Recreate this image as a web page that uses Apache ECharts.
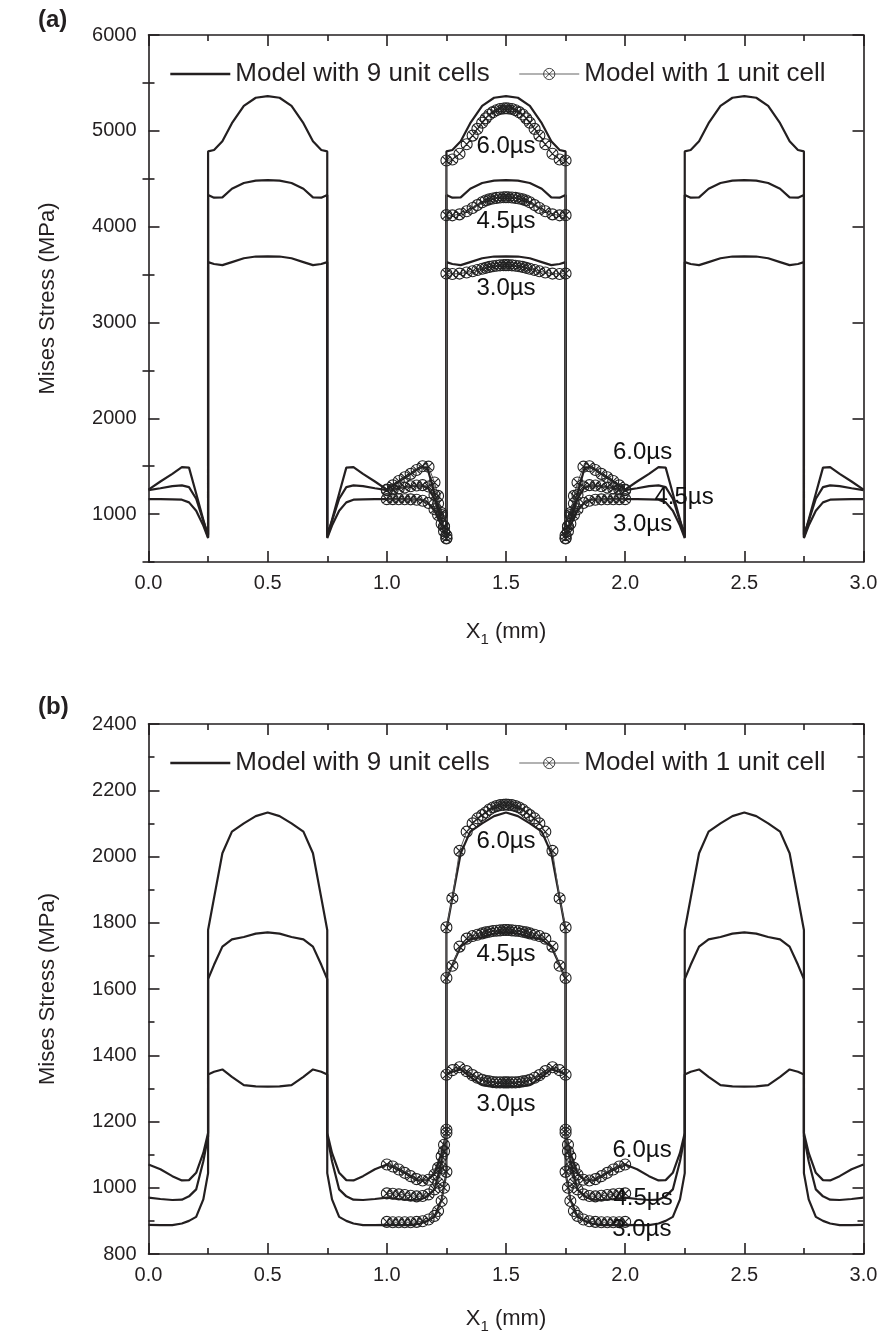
<!DOCTYPE html>
<html><head><meta charset="utf-8">
<script src="https://cdn.jsdelivr.net/npm/echarts@6/dist/echarts.min.js"></script>
<style>html,body{margin:0;padding:0;background:#fff}#c{width:881px;height:1340px}</style>
</head><body><div id="c"></div>
<script>
// ---------- x grid of the 9-unit-cell model (three periods) ----------
const X9 = [
  0, 0.05, 0.1, 0.14, 0.17, 0.2, 0.23, 0.25, 0.25, 0.275, 0.31, 0.35, 0.4, 0.45, 0.5, 0.55, 0.6, 0.65, 0.69, 0.725, 0.75, 0.75, 0.77, 0.8, 0.83, 0.86, 0.9, 0.95,
  1, 1.05, 1.1, 1.14, 1.17, 1.2, 1.23, 1.25, 1.25, 1.275, 1.31, 1.35, 1.4, 1.45, 1.5, 1.55, 1.6, 1.65, 1.69, 1.725, 1.75, 1.75, 1.77, 1.8, 1.83, 1.86, 1.9, 1.95,
  2, 2.05, 2.1, 2.14, 2.17, 2.2, 2.23, 2.25, 2.25, 2.275, 2.31, 2.35, 2.4, 2.45, 2.5, 2.55, 2.6, 2.65, 2.69, 2.725, 2.75, 2.75, 2.77, 2.8, 2.83, 2.86, 2.9, 2.95,
  3
];
// (a) 9 unit cells
const A9_60 = [
  1255, 1340, 1420, 1490, 1485, 1215, 940, 760, 4785, 4800, 4890, 5080, 5260, 5345, 5362, 5345, 5260, 5080, 4890, 4800, 4785, 760, 940, 1215, 1485, 1490, 1420, 1340,
  1255, 1340, 1420, 1490, 1485, 1215, 940, 760, 4785, 4800, 4890, 5080, 5260, 5345, 5362, 5345, 5260, 5080, 4890, 4800, 4785, 760, 940, 1215, 1485, 1490, 1420, 1340,
  1255, 1340, 1420, 1490, 1485, 1215, 940, 760, 4785, 4800, 4890, 5080, 5260, 5345, 5362, 5345, 5260, 5080, 4890, 4800, 4785, 760, 940, 1215, 1485, 1490, 1420, 1340,
  1255
];
const A9_45 = [
  1250, 1270, 1292, 1300, 1282, 1160, 930, 785, 4330, 4302, 4305, 4395, 4455, 4480, 4485, 4480, 4455, 4395, 4305, 4302, 4330, 785, 930, 1160, 1282, 1300, 1292, 1270,
  1250, 1270, 1292, 1300, 1282, 1160, 930, 785, 4330, 4302, 4305, 4395, 4455, 4480, 4485, 4480, 4455, 4395, 4305, 4302, 4330, 785, 930, 1160, 1282, 1300, 1292, 1270,
  1250, 1270, 1292, 1300, 1282, 1160, 930, 785, 4330, 4302, 4305, 4395, 4455, 4480, 4485, 4480, 4455, 4395, 4305, 4302, 4330, 785, 930, 1160, 1282, 1300, 1292, 1270,
  1250
];
const A9_30 = [
  1156, 1156, 1154, 1150, 1122, 1035, 880, 750, 3630, 3610, 3598, 3630, 3670, 3688, 3690, 3688, 3670, 3630, 3598, 3610, 3630, 750, 880, 1035, 1122, 1150, 1154, 1156,
  1156, 1156, 1154, 1150, 1122, 1035, 880, 750, 3630, 3610, 3598, 3630, 3670, 3688, 3690, 3688, 3670, 3630, 3598, 3610, 3630, 750, 880, 1035, 1122, 1150, 1154, 1156,
  1156, 1156, 1154, 1150, 1122, 1035, 880, 750, 3630, 3610, 3598, 3630, 3670, 3688, 3690, 3688, 3670, 3630, 3598, 3610, 3630, 750, 880, 1035, 1122, 1150, 1154, 1156,
  1156
];
// (b) 9 unit cells
const B9_60 = [
  1070, 1056, 1035, 1022, 1023, 1045, 1105, 1165, 1778, 1875, 2010, 2075, 2100, 2122, 2133, 2122, 2100, 2075, 2010, 1875, 1778, 1165, 1105, 1045, 1023, 1022, 1035, 1056,
  1070, 1056, 1035, 1022, 1023, 1045, 1105, 1165, 1778, 1875, 2010, 2075, 2100, 2122, 2133, 2122, 2100, 2075, 2010, 1875, 1778, 1165, 1105, 1045, 1023, 1022, 1035, 1056,
  1070, 1056, 1035, 1022, 1023, 1045, 1105, 1165, 1778, 1875, 2010, 2075, 2100, 2122, 2133, 2122, 2100, 2075, 2010, 1875, 1778, 1165, 1105, 1045, 1023, 1022, 1035, 1056,
  1070
];
const B9_45 = [
  970, 966, 963, 964, 974, 995, 1080, 1155, 1630, 1673, 1728, 1750, 1757, 1767, 1771, 1767, 1757, 1750, 1728, 1673, 1630, 1155, 1080, 995, 974, 964, 963, 966,
  970, 966, 963, 964, 974, 995, 1080, 1155, 1630, 1673, 1728, 1750, 1757, 1767, 1771, 1767, 1757, 1750, 1728, 1673, 1630, 1155, 1080, 995, 974, 964, 963, 966,
  970, 966, 963, 964, 974, 995, 1080, 1155, 1630, 1673, 1728, 1750, 1757, 1767, 1771, 1767, 1757, 1750, 1728, 1673, 1630, 1155, 1080, 995, 974, 964, 963, 966,
  970
];
const B9_30 = [
  888, 887, 887, 892, 900, 912, 965, 1044, 1342, 1350, 1357, 1335, 1310, 1306, 1305, 1306, 1310, 1335, 1357, 1350, 1342, 1044, 965, 912, 900, 892, 887, 887,
  888, 887, 887, 892, 900, 912, 965, 1044, 1342, 1350, 1357, 1335, 1310, 1306, 1305, 1306, 1310, 1335, 1357, 1350, 1342, 1044, 965, 912, 900, 892, 887, 887,
  888, 887, 887, 892, 900, 912, 965, 1044, 1342, 1350, 1357, 1335, 1310, 1306, 1305, 1306, 1310, 1335, 1357, 1350, 1342, 1044, 965, 912, 900, 892, 887, 887,
  888
];

// ---------- x grid of the 1-unit-cell model ----------
const X1 = [
  1.0, 1.025, 1.05, 1.075, 1.1, 1.125, 1.15, 1.175, 1.2, 1.215, 1.23, 1.24, 1.25,
  1.25, 1.275, 1.305, 1.335, 1.36, 1.38, 1.4, 1.415, 1.43, 1.445, 1.46, 1.475, 1.49, 1.5, 1.51, 1.525, 1.54, 1.555, 1.57, 1.585, 1.6, 1.62, 1.64, 1.665, 1.695, 1.725, 1.75,
  1.75, 1.76, 1.77, 1.785, 1.8, 1.825, 1.85, 1.875, 1.9, 1.925, 1.95, 1.975, 2.0
];
// (a) 1 unit cell
const A1_60 = [
  1255, 1300, 1345, 1385, 1420, 1460, 1500, 1495, 1330, 1190, 1010, 870, 745,
  4690, 4700, 4760, 4860, 4950, 5020, 5085, 5130, 5170, 5195, 5215, 5228, 5233, 5235, 5233, 5228, 5215, 5195, 5170, 5130, 5085, 5020, 4950, 4860, 4760, 4700, 4690,
  745, 870, 1010, 1190, 1330, 1495, 1500, 1460, 1420, 1385, 1345, 1300, 1255
];
const A1_45 = [
  1250, 1258, 1268, 1278, 1290, 1298, 1302, 1288, 1200, 1110, 990, 870, 780,
  4120, 4118, 4128, 4160, 4195, 4225, 4255, 4272, 4285, 4293, 4300, 4304, 4306, 4307, 4306, 4304, 4300, 4293, 4285, 4272, 4255, 4225, 4195, 4160, 4128, 4118, 4120,
  780, 870, 990, 1110, 1200, 1288, 1302, 1298, 1290, 1278, 1268, 1258, 1250
];
const A1_30 = [
  1156, 1156, 1155, 1155, 1154, 1150, 1140, 1115, 1050, 990, 900, 820, 750,
  3510, 3506, 3510, 3522, 3535, 3548, 3560, 3570, 3580, 3587, 3592, 3596, 3598, 3598, 3598, 3596, 3592, 3587, 3580, 3570, 3560, 3548, 3535, 3522, 3510, 3506, 3510,
  750, 820, 900, 990, 1050, 1115, 1140, 1150, 1154, 1155, 1155, 1156, 1156
];
// (b) 1 unit cell
const B1_60 = [
  1070, 1064, 1055, 1045, 1035, 1026, 1022, 1024, 1040, 1060, 1095, 1130, 1175,
  1786, 1874, 2017, 2075, 2100, 2115, 2125, 2133, 2142, 2148, 2152, 2155, 2156, 2157, 2156, 2155, 2152, 2148, 2142, 2133, 2125, 2115, 2100, 2075, 2017, 1874, 1786,
  1175, 1130, 1095, 1060, 1040, 1024, 1022, 1026, 1035, 1045, 1055, 1064, 1070
];
const B1_45 = [
  983, 982, 980, 978, 976, 974, 975, 980, 995, 1015, 1060, 1110, 1165,
  1633, 1670, 1728, 1752, 1760, 1764, 1768, 1771, 1773, 1775, 1776, 1777, 1778, 1778, 1778, 1777, 1776, 1775, 1773, 1771, 1768, 1764, 1760, 1752, 1728, 1670, 1633,
  1165, 1110, 1060, 1015, 995, 980, 975, 974, 976, 978, 980, 982, 983
];
const B1_30 = [
  897, 896, 896, 896, 896, 897, 899, 904, 915, 930, 960, 1000, 1048,
  1341, 1355, 1364, 1352, 1340, 1332, 1326, 1323, 1321, 1319, 1318, 1318, 1318, 1318, 1318, 1318, 1318, 1319, 1321, 1323, 1326, 1332, 1340, 1352, 1364, 1355, 1341,
  1048, 1000, 960, 930, 915, 904, 899, 897, 896, 896, 896, 896, 897
];

// ---------- tick values ----------
const A_MAJOR = [1000, 2000, 3000, 4000, 5000, 6000];
const A_MINOR = [500, 1500, 2500, 3500, 4500, 5500];

// ---------- curve labels [x, y, text] ----------
const LABELS_A = [
  [1.5, 4840, '6.0µs'], [1.5, 4056, '4.5µs'], [1.5, 3356, '3.0µs'],
  [2.073, 1648, '6.0µs'], [2.247, 1178, '4.5µs'], [2.073, 896, '3.0µs']
];
const LABELS_B = [
  [1.5, 2047, '6.0µs'], [1.5, 1706, '4.5µs'], [1.5, 1253, '3.0µs'],
  [2.071, 1112, '6.0µs'], [2.075, 969, '4.5µs'], [2.07, 873, '3.0µs']
];

const NAME9 = 'Model with 9 unit cells';
const NAME1 = 'Model with 1 unit cell';

// ---------- styling ----------
const INK = '#231f20';
const FONT = '"Liberation Sans", Arial, Helvetica, sans-serif';
const MARK = 'path://M0,-10A10,10,0,1,1,0,10A10,10,0,1,1,0,-10ZM-7.07,-7.07L7.07,7.07M7.07,-7.07L-7.07,7.07';

const pair = (xs, ys) => xs.map((x, i) => [x, ys[i]]);

function xAxes(gi, nameGap) {
  const base = {
    type: 'value', gridIndex: gi, min: 0, max: 3, interval: 0.5,
    axisLine: { onZero: false, lineStyle: { color: INK, width: 1.6 } },
    axisTick: { inside: true, length: 11, lineStyle: { color: INK, width: 1.6 } },
    minorTick: { show: true, splitNumber: 2, length: 6, lineStyle: { color: INK, width: 1.6 } },
    splitLine: { show: false }, minorSplitLine: { show: false }
  };
  return [
    Object.assign({}, base, {
      position: 'bottom',
      axisLabel: { color: INK, fontSize: 20, fontFamily: FONT, margin: 11, formatter: v => v.toFixed(1) },
      name: 'X{s|1} (mm)', nameLocation: 'middle', nameGap: nameGap,
      nameTextStyle: { color: INK, fontSize: 22, fontFamily: FONT, lineHeight: 30,
        rich: { s: { fontSize: 15, fontFamily: FONT, color: INK, lineHeight: 16, verticalAlign: 'bottom' } } }
    }),
    Object.assign({}, base, { position: 'top', axisLabel: { show: false } })
  ];
}

function yAxisStyle(extra) {
  return Object.assign({
    type: 'value',
    axisLine: { show: true, onZero: false, lineStyle: { color: INK, width: 1.6 } },
    splitLine: { show: false }, minorSplitLine: { show: false }
  }, extra);
}
const yLabel = { color: INK, fontSize: 20, fontFamily: FONT, margin: 12, formatter: v => String(v) };
const yName = { name: 'Mises Stress (MPa)', nameLocation: 'middle', nameGap: 90, nameRotate: 90,
  nameTextStyle: { color: INK, fontSize: 22, fontFamily: FONT } };
const tickMaj = { inside: true, length: 11, lineStyle: { color: INK, width: 1.6 } };
const tickMin = { inside: true, length: 6, lineStyle: { color: INK, width: 1.6 } };

const yAxes = [
  // (a) left major
  yAxisStyle(Object.assign({ gridIndex: 0, min: 500, max: 6000, position: 'left',
    axisLabel: Object.assign({ customValues: A_MAJOR }, yLabel),
    axisTick: Object.assign({ customValues: A_MAJOR }, tickMaj) }, yName)),
  // (a) left minor
  yAxisStyle({ gridIndex: 0, min: 500, max: 6000, position: 'left', axisLine: { show: false },
    axisLabel: { show: false }, axisTick: Object.assign({ customValues: A_MINOR }, tickMin) }),
  // (a) right major
  yAxisStyle({ gridIndex: 0, min: 500, max: 6000, position: 'right', axisLabel: { show: false },
    axisTick: Object.assign({ customValues: A_MAJOR }, tickMaj) }),
  // (a) right minor
  yAxisStyle({ gridIndex: 0, min: 500, max: 6000, position: 'right', axisLine: { show: false },
    axisLabel: { show: false }, axisTick: Object.assign({ customValues: A_MINOR }, tickMin) }),
  // (b) left
  yAxisStyle(Object.assign({ gridIndex: 1, min: 800, max: 2400, interval: 200, position: 'left',
    axisLabel: yLabel, axisTick: tickMaj,
    minorTick: { show: true, splitNumber: 2, length: 6, lineStyle: { color: INK, width: 1.6 } } }, yName)),
  // (b) right
  yAxisStyle({ gridIndex: 1, min: 800, max: 2400, interval: 200, position: 'right',
    axisLabel: { show: false }, axisTick: tickMaj,
    minorTick: { show: true, splitNumber: 2, length: 6, lineStyle: { color: INK, width: 1.6 } } })
];

function line9(name, data, xi, yi) {
  return { type: 'line', name: name, xAxisIndex: xi, yAxisIndex: yi, data: data, symbol: 'none',
    lineStyle: { color: INK, width: 2.2 }, itemStyle: { color: 'rgba(0,0,0,0)' }, z: 3, animation: false, silent: true };
}
function line1(name, data, xi, yi) {
  return { type: 'line', name: name, xAxisIndex: xi, yAxisIndex: yi, data: data,
    symbol: MARK, symbolSize: 11, showSymbol: true, showAllSymbol: true,
    lineStyle: { color: '#555', width: 1 },
    itemStyle: { color: 'rgba(0,0,0,0)', borderColor: '#222', borderWidth: 1.1 },
    z: 4, animation: false, silent: true };
}
function labels(arr, xi, yi) {
  return { type: 'scatter', xAxisIndex: xi, yAxisIndex: yi, symbolSize: 1, silent: true, animation: false,
    itemStyle: { color: 'rgba(0,0,0,0)' }, z: 6,
    label: { show: true, position: 'inside', color: '#111', fontSize: 24, fontFamily: FONT,
      textBorderWidth: 0, textBorderColor: 'transparent', opacity: 1 },
    data: arr.map(a => ({ value: [a[0], a[1]], label: { formatter: a[2] } })) };
}

const legendBase = { left: 169, padding: 0, itemWidth: 60, itemHeight: 14, itemGap: 29, selectedMode: false,
  data: [
    { name: NAME9, lineStyle: { width: 2.6, color: INK } },
    { name: NAME1, lineStyle: { width: 1.2, color: '#666' }, itemStyle: { borderWidth: 0.9, borderColor: '#333', color: 'rgba(0,0,0,0)' } }
  ],
  textStyle: { color: INK, fontSize: 26, fontFamily: FONT } };

const option = {
  backgroundColor: '#ffffff',
  animation: false,
  grid: [
    { left: 148.5, top: 35, width: 715, height: 527 },
    { left: 148.5, top: 724, width: 715, height: 530 }
  ],
  xAxis: [].concat(xAxes(0, 55), xAxes(1, 50)),
  yAxis: yAxes,
  legend: [
    Object.assign({ top: 61 }, legendBase),
    Object.assign({ top: 750 }, legendBase)
  ],
  graphic: [
    { type: 'text', left: 38, top: 8, style: { text: '(a)', font: 'bold 24px ' + FONT, fill: INK } },
    { type: 'text', left: 38, top: 695, style: { text: '(b)', font: 'bold 24px ' + FONT, fill: INK } }
  ],
  series: [
    line9(NAME9, pair(X9, A9_60), 0, 0),
    line9(NAME9, pair(X9, A9_45), 0, 0),
    line9(NAME9, pair(X9, A9_30), 0, 0),
    line1(NAME1, pair(X1, A1_60), 0, 0),
    line1(NAME1, pair(X1, A1_45), 0, 0),
    line1(NAME1, pair(X1, A1_30), 0, 0),
    labels(LABELS_A, 0, 0),
    line9(NAME9, pair(X9, B9_60), 2, 4),
    line9(NAME9, pair(X9, B9_45), 2, 4),
    line9(NAME9, pair(X9, B9_30), 2, 4),
    line1(NAME1, pair(X1, B1_60), 2, 4),
    line1(NAME1, pair(X1, B1_45), 2, 4),
    line1(NAME1, pair(X1, B1_30), 2, 4),
    labels(LABELS_B, 2, 4)
  ]
};

const chart = echarts.init(document.getElementById('c'), null, { renderer: 'canvas' });
chart.setOption(option);
</script>
</body></html>
